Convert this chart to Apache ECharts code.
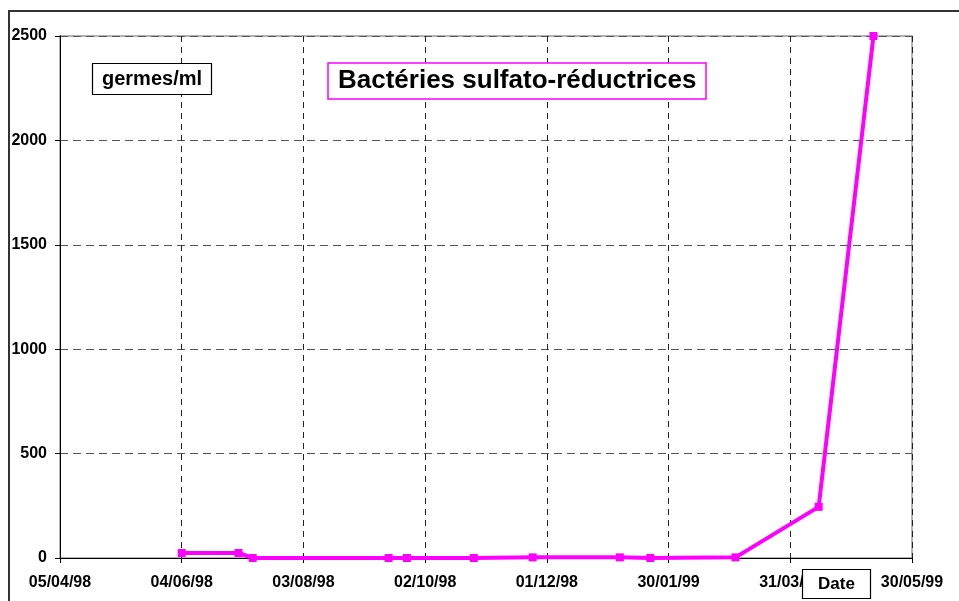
<!DOCTYPE html>
<html>
<head>
<meta charset="utf-8">
<title>Bactéries sulfato-réductrices</title>
<script src="https://cdn.jsdelivr.net/npm/echarts@6/dist/echarts.min.js"></script>
<style>
  html, body { margin: 0; padding: 0; background: #fff; }
  #chart { width: 959px; height: 601px; }
</style>
</head>
<body>
<div id="chart"></div>
<script>
// Sampling dates and counts (germes/ml)
const sampleDates = ['1998-06-04', '1998-07-02', '1998-07-09', '1998-09-14', '1998-09-23', '1998-10-26',
                     '1998-11-24', '1999-01-06', '1999-01-21', '1999-03-04', '1999-04-14', '1999-05-11'];
const counts = [24, 24, 0, 0, 0, 0, 3, 3, 0, 3, 245, 2500];

// Axis range: 05/04/98 to 30/05/99, a tick every 60 days
const axisStart = '1998-04-05';
const axisEnd = '1999-05-30';
const dayStep = 60;
const yMax = 2500;
const yStep = 500;

const DAY = 86400000;
function utc(s) {
  const p = s.split('-').map(Number);
  return Date.UTC(p[0], p[1] - 1, p[2]);
}
const origin = utc(axisStart);
function dayOffset(s) { return Math.round((utc(s) - origin) / DAY); }
function pad(n) { return (n < 10 ? '0' : '') + n; }
function dateLabel(v) {
  const d = new Date(origin + v * DAY);
  return pad(d.getUTCDate()) + '/' + pad(d.getUTCMonth() + 1) + '/' + pad(d.getUTCFullYear() % 100);
}

const points = sampleDates.map((d, i) => [dayOffset(d), counts[i]]);

const FONT = '"Liberation Sans", Arial, Helvetica, sans-serif';
const MAGENTA = '#FF00FF';

const chart = echarts.init(document.getElementById('chart'), null, { renderer: 'canvas' });

chart.setOption({
  animation: false,
  backgroundColor: '#fff',
  textStyle: { fontFamily: FONT },
  title: [
    {
      text: 'Bactéries sulfato-réductrices',
      left: 328, top: 63,
      padding: [4, 10],
      borderColor: MAGENTA, borderWidth: 1.5,
      backgroundColor: '#fff',
      textStyle: { fontFamily: FONT, fontWeight: 'bold', fontSize: 26, lineHeight: 28, color: '#000' }
    },
    {
      text: 'germes/ml',
      left: 92, top: 63,
      padding: [4, 10],
      borderColor: '#000', borderWidth: 1.2,
      backgroundColor: '#fff',
      textStyle: { fontFamily: FONT, fontWeight: 'bold', fontSize: 20, lineHeight: 24, color: '#000' }
    },
    {
      text: 'Date',
      left: 802, top: 569,
      padding: [4, 16],
      borderColor: '#000', borderWidth: 1.2,
      backgroundColor: '#fff',
      textStyle: { fontFamily: FONT, fontWeight: 'bold', fontSize: 17, lineHeight: 22, color: '#000' }
    }
  ],
  graphic: [
    {
      type: 'rect',
      shape: { x: 9, y: 11, width: 1200, height: 1200 },
      style: { fill: 'none', stroke: '#333', lineWidth: 2 },
      silent: true,
      z: -1
    }
  ],
  grid: {
    left: 60, top: 36, right: 47, bottom: 43,
    show: true,
    borderColor: '#9a9a9a', borderWidth: 1.5,
    backgroundColor: 'transparent'
  },
  xAxis: {
    type: 'value',
    min: dayOffset(axisStart),
    max: dayOffset(axisEnd),
    interval: dayStep,
    axisLine: { show: true, onZero: false, lineStyle: { color: '#000', width: 1 } },
    axisTick: { show: true, inside: false, length: 5, lineStyle: { color: '#000' } },
    axisLabel: {
      margin: 17,
      formatter: dateLabel,
      fontFamily: FONT, fontWeight: 'bold', fontSize: 16, color: '#000'
    },
    splitLine: { show: true, lineStyle: { color: '#222', width: 1, type: [6, 5] } }
  },
  yAxis: {
    type: 'value',
    min: 0, max: yMax, interval: yStep,
    axisLine: { show: true, lineStyle: { color: '#000', width: 1 } },
    axisTick: { show: true, inside: false, length: 5, lineStyle: { color: '#000' } },
    axisLabel: {
      margin: 13,
      formatter: v => String(v),
      fontFamily: FONT, fontWeight: 'bold', fontSize: 16, color: '#000'
    },
    splitLine: { show: true, lineStyle: { color: '#555', width: 1, type: [8, 5] } }
  },
  series: [
    {
      type: 'line',
      data: points,
      lineStyle: { color: MAGENTA, width: 4 },
      itemStyle: { color: MAGENTA },
      symbol: 'rect',
      symbolSize: 8,
      showSymbol: true,
      clip: false
    }
  ]
});
</script>
</body>
</html>
